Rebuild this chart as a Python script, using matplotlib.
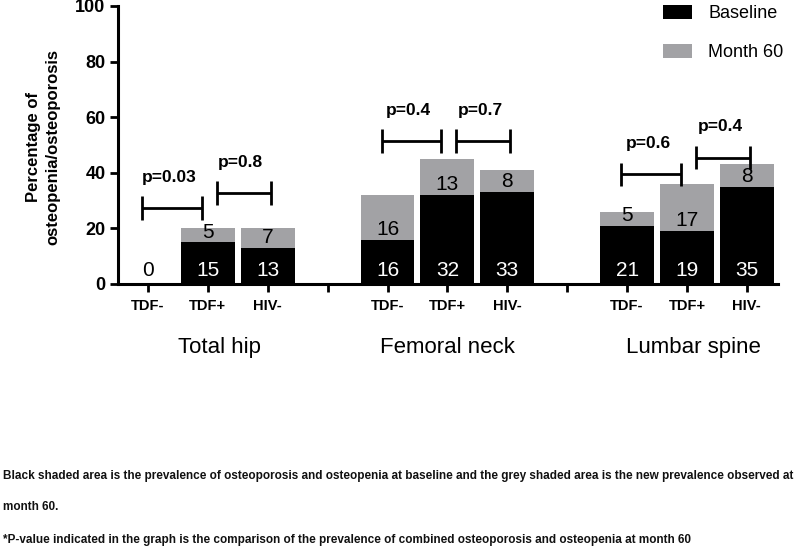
import matplotlib
matplotlib.use("Agg")
import matplotlib.pyplot as plt
from matplotlib.patches import Patch
from matplotlib.transforms import blended_transform_factory

# ---- data ----
groups = ["Total hip", "Femoral neck", "Lumbar spine"]
subgroups = ["TDF-", "TDF+", "HIV-"]
baseline = [0, 15, 13, 16, 32, 33, 21, 19, 35]
month60 = [0, 5, 7, 16, 13, 8, 5, 17, 8]
month60_labels = ["", "5", "7", "16", "13", "8", "5", "17", "8"]
p_values = ["p=0.03", "p=0.8", "p=0.4", "p=0.7", "p=0.6", "p=0.4"]
yticks = [0, 20, 40, 60, 80, 100]

# annotation geometry (bar slots compared by each bracket)
p_pairs = [(0, 1), (1, 2), (3, 4), (4, 5), (6, 7), (7, 8)]
p_heights = [27.4, 32.8, 51.3, 51.3, 39.4, 45.5]

footnote1 = ("Black shaded area is the prevalence of osteoporosis and osteopenia at baseline and the grey "
             "shaded area is the new prevalence observed at")
footnote2 = "month 60."
footnote3 = ("*P-value indicated in the graph is the comparison of the prevalence of combined osteoporosis "
             "and osteopenia at month 60")

BLACK = "#000000"
GREY = "#a2a2a5"

plt.rcParams["font.family"] = ["Liberation Sans", "DejaVu Sans"]

fig = plt.figure(figsize=(8, 5.52), dpi=100)
ax = fig.add_axes([118 / 800, 1 - 284 / 552, (778 - 118) / 800, (284 - 6) / 552])

# x positions: 3 bars per group, one empty slot between groups
xpos = []
for g in range(len(groups)):
    for s in range(len(subgroups)):
        xpos.append(g * 4 + s)

ax.bar(xpos, baseline, width=0.9, color=BLACK, label="Baseline", zorder=2)
ax.bar(xpos, month60, bottom=baseline, width=0.9, color=GREY, label="Month 60", zorder=2)

# value labels
for x, b, m, ml in zip(xpos, baseline, month60, month60_labels):
    ax.text(x, 5, str(b), ha="center", va="center", fontsize=15,
            color=("white" if b > 6 else "black"), zorder=3)
    if ml:
        ax.text(x, b + 3.7, ml, ha="center", va="center", fontsize=15,
                color="black", zorder=3)

# p-value brackets
for (i0, i1), h, p in zip(p_pairs, p_heights, p_values):
    x0 = xpos[i0] - 0.1
    x1 = xpos[i1] - 0.1 if i0 % 3 == 0 else xpos[i1] + 0.05
    if i0 % 3 == 1:
        x0 = xpos[i0] + 0.15
    ax.plot([x0, x1], [h, h], color="black", lw=2, solid_capstyle="butt", zorder=4)
    ax.plot([x0, x0], [h - 4.3, h + 4.3], color="black", lw=2, solid_capstyle="butt", zorder=4)
    ax.plot([x1, x1], [h - 4.3, h + 4.3], color="black", lw=2, solid_capstyle="butt", zorder=4)
    ax.text((x0 + x1) / 2 - 0.05, h + 11, p, ha="center", va="center",
            fontsize=12.5, fontweight="bold", zorder=4)

# axes styling
ax.set_xlim(-0.5, 10.52)
ax.set_ylim(0, 100)
ax.spines["top"].set_visible(False)
ax.spines["right"].set_visible(False)
ax.spines["left"].set_linewidth(2.2)
ax.spines["bottom"].set_linewidth(2.2)
ax.set_yticks(yticks)
ax.set_yticklabels([str(v) for v in yticks], fontsize=13, fontweight="bold")
ticks = list(range(11))
labels = []
for t in ticks:
    labels.append(subgroups[t % 4] if t % 4 != 3 else "")
ax.set_xticks(ticks)
ax.set_xticklabels(labels, fontsize=10.5, fontweight="bold")
ax.tick_params(axis="both", direction="out", length=6, width=2, color="black")
ax.tick_params(axis="x", pad=5)
ax.tick_params(axis="y", pad=3)

# group labels
trans = blended_transform_factory(ax.transData, ax.transAxes)
for g, name in enumerate(groups):
    ax.text(g * 4 + 1 + (0.2 if g == 0 else (0.0 if g == 1 else 0.1)), -0.227, name,
            transform=trans, ha="center", va="center", fontsize=16)

# y label
fig.text(43 / 800, 1 - 147 / 552, "Percentage of\nosteopenia/osteoporosis", rotation=90,
         ha="center", va="center", fontsize=12, fontweight="bold", linespacing=1.35,
         multialignment="center")

# legend
handles = [Patch(facecolor=BLACK, label="Baseline"), Patch(facecolor=GREY, label="Month 60")]
ax.legend(handles=handles, loc="upper left", bbox_to_anchor=(0.815, 1.03), frameon=False,
          fontsize=13, handlelength=1.6, handleheight=0.8, labelspacing=1.2,
          handletextpad=0.9, borderaxespad=0)

# footnotes
fn_font = dict(fontsize=8.5, fontweight="bold", color="#111111")
fig.text(0.004, 1 - 476 / 552, footnote1, ha="left", va="center", **fn_font)
fig.text(0.004, 1 - 507 / 552, footnote2, ha="left", va="center", **fn_font)
fig.text(0.004, 1 - 540 / 552, footnote3, ha="left", va="center", **fn_font)

fig.savefig("out.png", dpi=100)
